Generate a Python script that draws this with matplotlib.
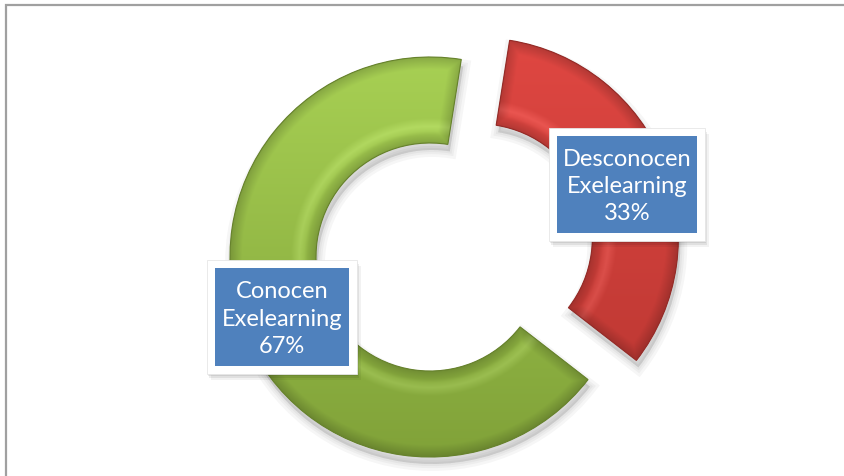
import numpy as np
import matplotlib.pyplot as plt
from matplotlib.patches import Rectangle, Wedge

# Data
categories = ['Conocen\nExelearning', 'Desconocen\nExelearning']
values = [67, 33]
pct_labels = ['67%', '33%']

green_top, green_bot = np.array([0.66, 0.82, 0.33]), np.array([0.50, 0.63, 0.22])
red_top, red_bot = np.array([0.88, 0.28, 0.26]), np.array([0.72, 0.21, 0.19])

W, H = 844, 477
CX, CY, R = 430, 258, 200   # donut centre / radius in pixels


def fx(x):
    return x / W


def fy(y):
    return 1 - y / H


fig = plt.figure(figsize=(W / 100, H / 100), dpi=100)
fig.patch.set_facecolor('white')

# outer frame (only left and top visible)
fig.patches.append(Rectangle((fx(6), fy(490)), fx(860), (490 - 6) / H,
                             transform=fig.transFigure, fill=False,
                             edgecolor='#a0a0a0', linewidth=1.6))

# axes so that 1 data unit == R pixels, pie centred at (0, 0)
ax = fig.add_axes([0, 0, 1, 1])
xlim = (-CX / R, (W - CX) / R)
ylim = ((CY - H) / R, CY / R)

ring = 0.43
wedges, _ = ax.pie(values, radius=1, startangle=81, explode=[0, 0.26],
                   colors=['#9bc346', '#d4403c'],
                   wedgeprops=dict(width=ring, linewidth=0))

# soft shadow under the ring
for w in wedges:
    c = w.center
    for lw in [10, 6, 3]:
        s = Wedge((c[0] + 0.01, c[1] - 0.035), w.r, w.theta1, w.theta2,
                  width=ring, facecolor=(0, 0, 0, 0.04),
                  edgecolor=(0, 0, 0, 0.035), linewidth=lw, zorder=0)
        ax.add_patch(s)

# gradient + bevel fill
tops = [green_top, red_top]
bots = [green_bot, red_bot]
for w, ct, cb in zip(wedges, tops, bots):
    cx, cy = w.center
    x0, x1 = cx - 1.05, cx + 1.05
    y0, y1 = cy - 1.05, cy + 1.05
    n = 500
    gx, gy = np.meshgrid(np.linspace(x0, x1, n), np.linspace(y1, y0, n))
    rr = np.hypot(gx - cx, gy - cy)
    ang = (np.degrees(np.arctan2(gy - cy, gx - cx)) - w.theta1) % 360
    span = w.theta2 - w.theta1
    t = np.clip((gy - y0) / (y1 - y0), 0, 1)[..., None]
    col = cb + (ct - cb) * t
    # bevel: darker rim at outer / inner edges and ends, light inner highlight
    d_out = (1 - rr) / 0.06
    d_in = (rr - (1 - ring)) / 0.06
    d_a1 = np.radians(ang) * rr / 0.06
    d_a2 = np.radians(span - ang) * rr / 0.06
    d = np.clip(np.minimum.reduce([d_out, d_in, d_a1, d_a2]), 0, 1)[..., None]
    shade = 0.82 + 0.18 * d
    hl = np.clip(1 - np.abs(d_in - 1.4) / 0.7, 0, 1)[..., None] * 0.07
    img = np.clip(col * shade + hl, 0, 1)
    im = ax.imshow(img, extent=(x0, x1, y0, y1), zorder=2, interpolation='bilinear')
    im.set_clip_path(w)
    ax.add_patch(Wedge(w.center, w.r, w.theta1, w.theta2, width=ring,
                       facecolor='none', edgecolor=cb * 0.8, linewidth=0.8,
                       zorder=3))

ax.set_xlim(*xlim)
ax.set_ylim(*ylim)
ax.set_aspect('equal')
ax.axis('off')

# label boxes (blue with thick white border and a soft shadow)
boxes = [(215, 269, 349, 367), (557, 137, 697, 234)]
for (bx0, by0, bx1, by1), cat, pct in zip(boxes, categories, pct_labels):
    for off, a in [(6, 0.05), (4, 0.07), (2, 0.08)]:
        fig.patches.append(Rectangle((fx(bx0 - 8 + off * 0.6), fy(by1 + 8 + off)),
                                     (bx1 - bx0 + 16) / W, (by1 - by0 + 16) / H,
                                     transform=fig.transFigure, facecolor=(0, 0, 0, a),
                                     edgecolor='none', zorder=4))
    fig.patches.append(Rectangle((fx(bx0 - 8), fy(by1 + 8)),
                                 (bx1 - bx0 + 16) / W, (by1 - by0 + 16) / H,
                                 transform=fig.transFigure, facecolor='white',
                                 edgecolor='#e6e6e6', linewidth=0.6, zorder=5))
    fig.patches.append(Rectangle((fx(bx0), fy(by1)), (bx1 - bx0) / W, (by1 - by0) / H,
                                 transform=fig.transFigure, facecolor='#4f81bd',
                                 edgecolor='none', zorder=6))
    fig.text(fx((bx0 + bx1) / 2), fy((by0 + by1) / 2 + 1), cat + '\n' + pct,
             ha='center', va='center', color='white', fontsize=17,
             family='Lato', linespacing=1.38, zorder=7)

fig.savefig('out.png', dpi=100, facecolor='white')
